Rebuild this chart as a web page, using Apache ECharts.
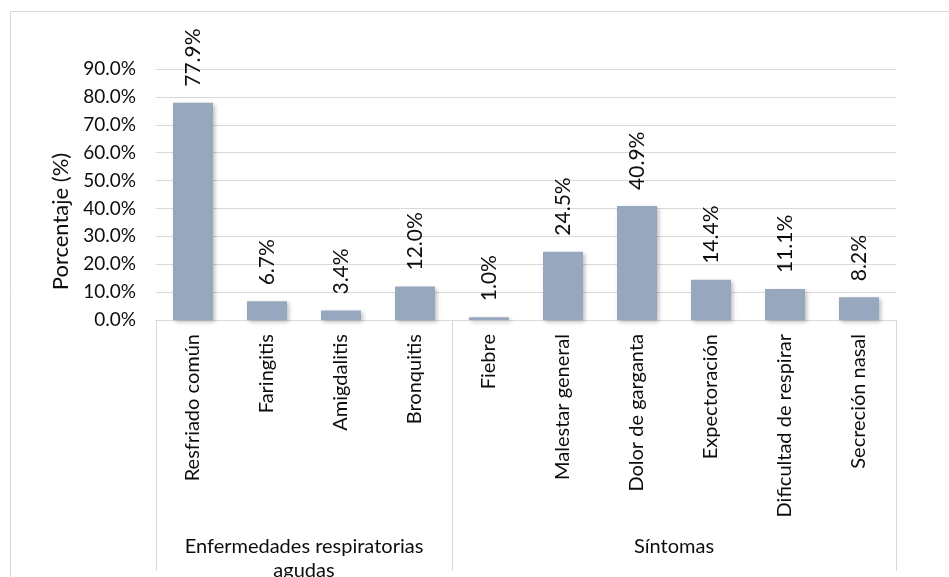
<!doctype html>
<html lang="es">
<head>
    <meta charset="UTF-8">
    <title>Porcentaje</title>
    <script src="https://cdn.jsdelivr.net/npm/echarts@6/dist/echarts.min.js"></script>
    <style>
        html, body { margin: 0; padding: 0; background: #fff; }
        #main { width: 949px; height: 577px; }
    </style>
</head>
<body>
<div id="main"></div>
<script>
    // datos
    var categorias = ['Resfriado común', 'Faringitis', 'Amigdalitis', 'Bronquitis',
        'Fiebre', 'Malestar general', 'Dolor de garganta', 'Expectoración',
        'Dificultad de respirar', 'Secreción nasal'];
    var valores = [77.9, 6.7, 3.4, 12.0, 1.0, 24.5, 40.9, 14.4, 11.1, 8.2];
    var grupos = ['Enfermedades respiratorias\nagudas', 'Síntomas'];
    var tamGrupos = [4, 6];
    var yMax = 90;
    var yPaso = 10;

    // etiquetas de grupo sobre los límites de categoría (n + 1 puntos)
    var limites = [];
    for (var i = 0; i <= categorias.length; i++) limites.push('');
    var cortes = [0];
    var ini = 0;
    for (var g = 0; g < grupos.length; g++) {
        limites[ini + tamGrupos[g] / 2] = grupos[g];
        ini += tamGrupos[g];
        cortes.push(ini);
    }

    var fuente = 'Lato, "Open Sans", sans-serif';
    var texto = '#0d0d0d';
    var gris = '#d9d9d9';

    var myChart = echarts.init(document.getElementById('main'));
    var option = {
        animation: false,
        graphic: [{
            type: 'rect',
            shape: { x: 10.5, y: 11.5, width: 1000, height: 1000 },
            style: { fill: 'none', stroke: gris, lineWidth: 1 },
            silent: true
        }],
        grid: [
            { left: 156, right: 53, top: 69, bottom: 257 },
            { left: 156, right: 53, top: 320, bottom: 0 }
        ],
        xAxis: [
            {
                type: 'category',
                gridIndex: 0,
                data: categorias,
                axisLine: { lineStyle: { color: gris } },
                axisTick: { show: false },
                axisLabel: {
                    interval: 0,
                    rotate: 90,
                    margin: 14,
                    color: texto,
                    fontFamily: fuente,
                    fontSize: 20
                }
            },
            {
                type: 'category',
                gridIndex: 1,
                position: 'top',
                boundaryGap: false,
                data: limites,
                axisLine: { show: false },
                axisTick: { show: false },
                splitLine: {
                    show: true,
                    interval: function (idx) { return cortes.indexOf(idx) >= 0; },
                    lineStyle: { color: gris }
                },
                axisLabel: {
                    interval: 0,
                    inside: true,
                    margin: 215,
                    color: texto,
                    fontFamily: fuente,
                    fontSize: 20,
                    lineHeight: 24,
                    align: 'center'
                }
            }
        ],
        yAxis: [
            {
                type: 'value',
                gridIndex: 0,
                min: 0,
                max: yMax,
                interval: yPaso,
                name: 'Porcentaje (%)',
                nameLocation: 'middle',
                nameGap: 79,
                nameTextStyle: {
                    color: texto,
                    fontFamily: fuente,
                    fontSize: 22,
                    padding: [0, 54, 0, 0]
                },
                axisLine: { show: false },
                axisTick: { show: false },
                splitLine: { lineStyle: { color: gris } },
                axisLabel: {
                    margin: 20,
                    color: texto,
                    fontFamily: fuente,
                    fontSize: 19,
                    formatter: function (v) { return v.toFixed(1) + '%'; }
                }
            },
            { type: 'value', gridIndex: 1, show: false }
        ],
        series: [{
            type: 'bar',
            xAxisIndex: 0,
            yAxisIndex: 0,
            data: valores,
            barWidth: 40,
            itemStyle: {
                color: '#97a7be',
                shadowColor: 'rgba(0,0,0,0.25)',
                shadowBlur: 4,
                shadowOffsetX: 2,
                shadowOffsetY: 2
            },
            label: {
                show: true,
                position: 'top',
                rotate: 90,
                align: 'left',
                verticalAlign: 'middle',
                distance: 16,
                color: texto,
                fontFamily: fuente,
                fontSize: 21,
                formatter: function (p) { return p.value.toFixed(1) + '%'; }
            }
        }]
    };
    myChart.setOption(option);
</script>
</body>
</html>
